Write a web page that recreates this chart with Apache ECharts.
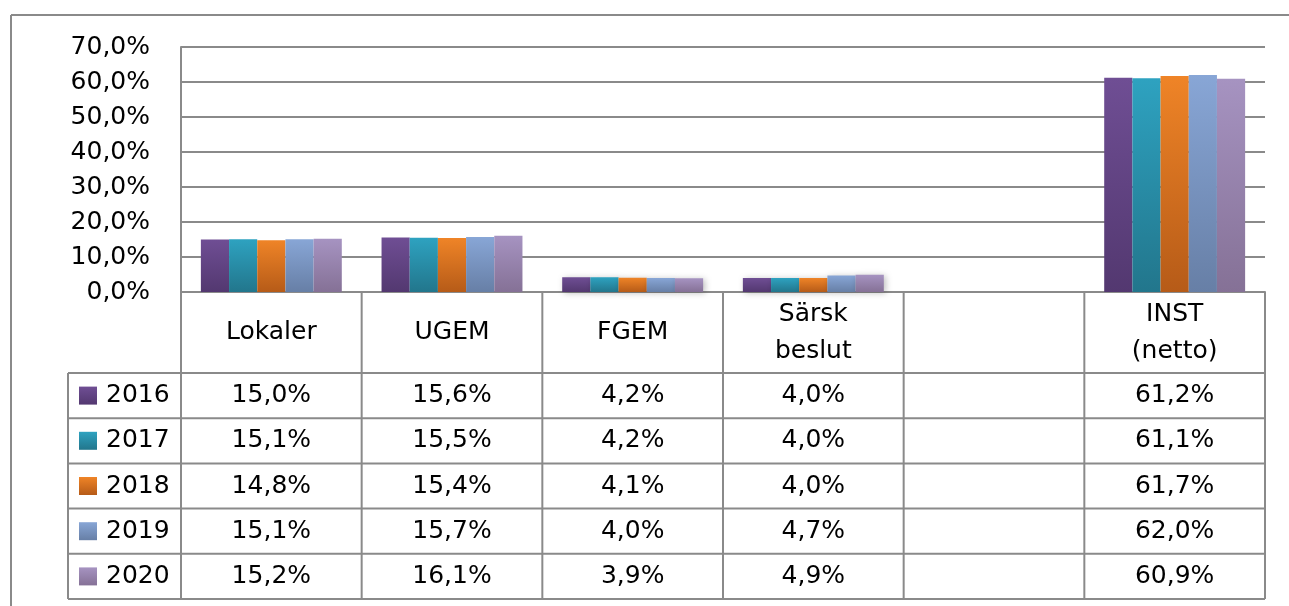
<!DOCTYPE html>
<html>
<head>
<meta charset="utf-8">
<script src="https://cdn.jsdelivr.net/npm/echarts@6/dist/echarts.min.js"></script>
<style>
  html, body { margin: 0; padding: 0; background: #fff; }
  #chart { width: 1289px; height: 606px; }
</style>
</head>
<body>
<div id="chart"></div>
<script>
// === DATA ===
const categories = ['Lokaler', 'UGEM', 'FGEM', 'Särsk\nbeslut', '', 'INST\n(netto)'];
const years = ['2016', '2017', '2018', '2019', '2020'];
const v2016 = [15.0, 15.6, 4.2, 4.0, null, 61.2];
const v2017 = [15.1, 15.5, 4.2, 4.0, null, 61.1];
const v2018 = [14.8, 15.4, 4.1, 4.0, null, 61.7];
const v2019 = [15.1, 15.7, 4.0, 4.7, null, 62.0];
const v2020 = [15.2, 16.1, 3.9, 4.9, null, 60.9];
const yTicks = [0, 10, 20, 30, 40, 50, 60, 70];

// === STYLE ===
const FONT = '"DejaVu Sans", sans-serif';
const FS = 25;
const LINE = '#8a8a8a';
const colors = [
    ['#6f4e94', '#533870'],
    ['#2ea2c0', '#22768c'],
    ['#ef8427', '#b65b18'],
    ['#88a6d6', '#677fa6'],
    ['#a693c1', '#857196']
];
const values = [v2016, v2017, v2018, v2019, v2020];
const fmt = v => v == null ? '' : v.toFixed(1).replace('.', ',') + '%';

const chart = echarts.init(document.getElementById('chart'));

function gradient(c) {
    return new echarts.graphic.LinearGradient(0, 0, 0, 1, [
        { offset: 0, color: c[0] },
        { offset: 1, color: c[1] }
    ]);
}

const option = {
    animation: false,
    grid: { left: 181, right: 24, top: 47, bottom: 314 },
    xAxis: {
        type: 'category',
        data: categories,
        axisLine: { show: true, lineStyle: { color: LINE, width: 2 } },
        axisTick: { show: false },
        axisLabel: { show: false },
        splitLine: { show: false }
    },
    yAxis: {
        type: 'value',
        min: yTicks[0],
        max: yTicks[yTicks.length - 1],
        interval: 10,
        axisLine: { show: true, lineStyle: { color: LINE, width: 2 } },
        axisTick: { show: false },
        axisLabel: {
            margin: 31,
            color: '#000',
            fontFamily: FONT,
            fontSize: FS,
            formatter: v => fmt(v)
        },
        splitLine: { lineStyle: { color: LINE, width: 2 } }
    },
    series: years.map((y, i) => ({
        name: y,
        type: 'bar',
        data: values[i],
        barGap: '0%',
        barCategoryGap: '22%',
        itemStyle: {
            color: gradient(colors[i]),
            shadowBlur: 6,
            shadowColor: 'rgba(0,0,0,0.25)',
            shadowOffsetX: 2,
            shadowOffsetY: 1
        }
    }))
};

chart.setOption(option);

// === TABLE ===
function buildTable() {
    const els = [];
    const n = categories.length;
    const c0 = chart.convertToPixel({ xAxisIndex: 0 }, 0);
    const c1 = chart.convertToPixel({ xAxisIndex: 0 }, 1);
    const cw = c1 - c0;
    const left = c0 - cw / 2;
    const right = left + cw * n;
    const y0 = chart.convertToPixel({ yAxisIndex: 0 }, 0);
    const headH = 81;
    const rowH = 45.2;
    const legL = 68;
    const bottom = y0 + headH + rowH * years.length;
    const line = (x1, y1, x2, y2) => els.push({
        type: 'line', silent: true, z: 1,
        shape: { x1, y1, x2, y2 },
        style: { stroke: LINE, lineWidth: 2 }
    });
    const text = (t, x, y, align) => els.push({
        type: 'text', silent: true, z: 2,
        style: {
            text: t, x, y, fill: '#000',
            font: FS + 'px ' + FONT,
            fontSize: FS, fontFamily: FONT,
            align: align || 'center', verticalAlign: 'middle',
            textAlign: align || 'center', textVerticalAlign: 'middle',
            lineHeight: 37
        }
    });

    // outer frame
    line(11, 15, 1289, 15);
    line(11, 15, 11, 606);

    // vertical lines
    for (let k = 0; k <= n; k++) {
        line(left + cw * k, y0, left + cw * k, bottom);
    }
    line(legL, y0 + headH, legL, bottom);

    // horizontal lines
    for (let r = 0; r <= years.length; r++) {
        const yy = y0 + headH + rowH * r;
        line(legL, yy, right, yy);
    }

    // header labels
    categories.forEach((c, k) => {
        text(c, left + cw * k + cw / 2, y0 + headH / 2);
    });

    // rows
    years.forEach((y, r) => {
        const cy = y0 + headH + rowH * r + rowH / 2;
        els.push({
            type: 'rect', silent: true, z: 2,
            shape: { x: 79, y: cy - 9, width: 18, height: 18 },
            style: { fill: gradient(colors[r]) }
        });
        text(y, 106, cy, 'left');
        values[r].forEach((v, k) => {
            text(fmt(v), left + cw * k + cw / 2, cy);
        });
    });

    chart.setOption({ graphic: { elements: els } });
}

buildTable();
</script>
</body>
</html>
